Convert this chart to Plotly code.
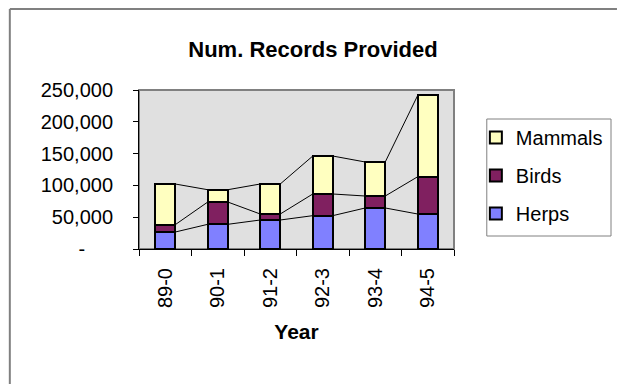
import plotly.graph_objects as go

years = ["89-0", "90-1", "91-2", "92-3", "93-4", "94-5"]
herps = [26700, 38800, 45600, 52400, 64500, 55000]
birds = [11500, 35100, 9400, 34100, 18800, 58700]
mammals = [64000, 19300, 47200, 59700, 53500, 128000]
ytick_vals = [0, 50000, 100000, 150000, 200000, 250000]
ytick_text = ["-\u00a0\u00a0\u00a0\u00a0\u00a0", "50,000", "100,000", "150,000", "200,000", "250,000"]

series = [("Herps", herps, "#8080ff", 3), ("Birds", birds, "#802060", 2), ("Mammals", mammals, "#ffffc0", 1)]
bar_w = 0.38

W, H = 620, 384
L, R, T, B = 139, 456, 90, 249

def px(x):
    return (x - L) / (R - L)

def py(y):
    return (B - y) / (B - T)

fig = go.Figure()
for name, vals, col, rank in series:
    fig.add_trace(go.Bar(x=years, y=vals, name=name, width=bar_w, legendrank=rank,
                         marker=dict(color=col, line=dict(color="black", width=2)),
                         legendgroup=name))

# series lines connecting stack tops
cum = [0] * len(years)
for name, vals, col, rank in series:
    cum = [c + v for c, v in zip(cum, vals)]
    for i in range(len(years) - 1):
        fig.add_trace(go.Scatter(x=[i + bar_w / 2, i + 1 - bar_w / 2], y=[cum[i], cum[i + 1]],
                                 xaxis="x2", mode="lines", line=dict(color="black", width=1),
                                 showlegend=False, hoverinfo="skip"))

font = dict(family="Liberation Sans, Arial, sans-serif", color="black")

fig.update_layout(
    width=W, height=H,
    margin=dict(l=L, r=W - R, t=T, b=H - B, pad=0),
    barmode="stack",
    paper_bgcolor="white",
    plot_bgcolor="#e0e0e0",
    font=dict(size=20, **font),
    title=dict(text="<b>Num. Records Provided</b>", x=313 / W, xref="container", xanchor="center",
               y=1 - 49 / H, yref="container", yanchor="middle", font=dict(size=22, **font)),
    xaxis=dict(type="category", range=[-0.5, 5.5], showline=True, linecolor="black", linewidth=1,
               ticks="outside", tickson="boundaries", ticklen=6, tickcolor="black", tickangle=-90,
               showgrid=False, tickfont=dict(size=20, **font), ticklabelstandoff=10,
               title=dict(text="<b>Year</b>", standoff=17, font=dict(size=21, **font))),
    xaxis2=dict(overlaying="x", range=[-0.5, 5.5], visible=False),
    yaxis=dict(range=[0, 250000], tickvals=ytick_vals, ticktext=ytick_text, showline=True,
               linecolor="black", linewidth=1, ticks="outside", ticklen=5, tickcolor="black",
               showgrid=False, zeroline=False, ticklabelstandoff=16, tickfont=dict(size=20, **font)),
    legend=dict(x=px(478), xanchor="left", y=py(118), yanchor="top",
                traceorder="grouped", tracegroupgap=9, borderwidth=0,
                bgcolor="rgba(0,0,0,0)", itemwidth=30, font=dict(size=20, **font)),
    shapes=[
        dict(type="rect", xref="paper", yref="paper", x0=0, x1=1, y0=0, y1=1,
             line=dict(color="#808080", width=2), layer="below"),
        dict(type="rect", xref="paper", yref="paper", x0=px(489), x1=px(614), y0=py(119), y1=py(236),
             line=dict(color="#808080", width=1), fillcolor="white", layer="below"),
        dict(type="line", xref="paper", yref="paper", x0=px(9), x1=px(W),
             y0=py(9), y1=py(9), line=dict(color="#808080", width=2)),
        dict(type="line", xref="paper", yref="paper", x0=px(9), x1=px(9),
             y0=py(9), y1=py(H), line=dict(color="#808080", width=2)),
    ],
)

fig.write_html("out.html", config={"displayModeBar": False})
